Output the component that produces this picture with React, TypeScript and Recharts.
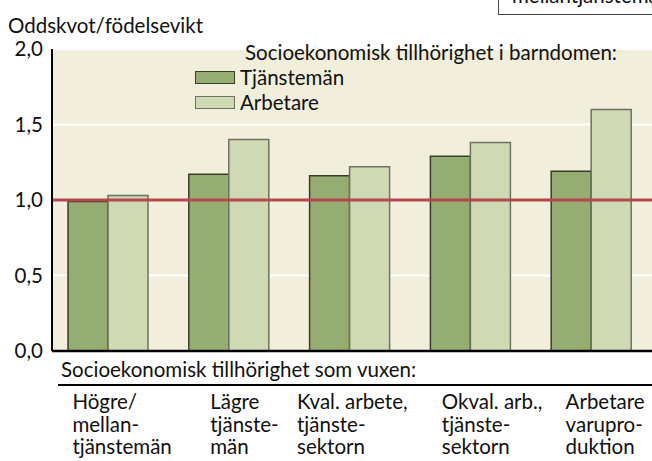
import React from 'react';
import { BarChart, Bar, XAxis, YAxis, CartesianGrid, ReferenceLine } from 'recharts';

const categoryLines: string[][] = [
  ['Högre/', 'mellan-', 'tjänstemän'],
  ['Lägre', 'tjänste-', 'män'],
  ['Kval. arbete,', 'tjänste-', 'sektorn'],
  ['Okval. arb.,', 'tjänste-', 'sektorn'],
  ['Arbetare', 'varupro-', 'duktion'],
];
const categories = categoryLines.map(l => l.join(' '));
const tjanstemanValues = [0.99, 1.17, 1.16, 1.29, 1.19];
const arbetareValues = [1.03, 1.40, 1.22, 1.38, 1.60];
const yTicks = [0, 0.5, 1, 1.5, 2];

const FONT = 'Lato, "Open Sans", sans-serif';
const FS = 20.5;
const DARK = '#95ad70';
const LIGHT = '#cfd9b4';
// left edge of each label block relative to its tick
const LABEL_SHIFT = [-36, -19, -53, -29, -26];

const data = categories.map((c, i) => ({
  category: c,
  tjansteman: tjanstemanValues[i],
  arbetare: arbetareValues[i],
}));

const CategoryTick = ({ x, y, index }: any) => {
  const lines = categoryLines[index] || [];
  return (
    <g>
      {lines.map((line, i) => (
        <text key={i} x={x + LABEL_SHIFT[index]} y={y + 50 + i * 22.5} fontSize={FS} fontFamily={FONT} fill="#111" textAnchor="start">
          {line}
        </text>
      ))}
    </g>
  );
};

const legendItems = [
  { name: 'Tjänstemän', color: DARK, border: '#3a3d2c' },
  { name: 'Arbetare', color: LIGHT, border: '#6f7163' },
];

export default function App() {
  return (
    <div style={{ position: 'absolute', left: 0, top: 0, width: 652, height: 461, background: '#fff', overflow: 'hidden', fontFamily: FONT }}>
      <div style={{ position: 'absolute', left: 498, top: -16, width: 170, height: 31, border: '1px solid #444', background: '#fff', fontSize: FS, color: '#111', paddingLeft: 13, lineHeight: '20px', boxSizing: 'border-box' }}>
        mellantjänstemän
      </div>
      <div style={{ position: 'absolute', left: 8, top: 13, fontSize: FS, color: '#111' }}>Oddskvot/födelsevikt</div>
      <BarChart
        width={652}
        height={461}
        data={data}
        margin={{ top: 49, right: 0, left: 0, bottom: 0 }}
        barCategoryGap={20}
        barGap={0}
      >
        <CartesianGrid vertical={false} fill="#f2eedc" stroke="#ffffff" strokeWidth={2} />
        <XAxis
          dataKey="category"
          height={110}
          padding={{ left: -4, right: 0 }}
          axisLine={{ stroke: '#000', strokeWidth: 2.5 }}
          tickLine={false}
          interval={0}
          tick={<CategoryTick />}
        />
        <YAxis
          width={52}
          domain={[0, 2]}
          ticks={yTicks}
          tickFormatter={(v: number) => v.toFixed(1).replace('.', ',')}
          axisLine={{ stroke: '#000', strokeWidth: 2 }}
          tickLine={false}
          tickSize={0}
          tickMargin={9}
          tick={{ fill: '#111', fontSize: FS, fontFamily: FONT }}
        />
        <Bar dataKey="tjansteman" name="Tjänstemän" fill={DARK} stroke="#3a3d2c" strokeWidth={1.5} isAnimationActive={false} />
        <Bar dataKey="arbetare" name="Arbetare" fill={LIGHT} stroke="#6f7163" strokeWidth={1.5} isAnimationActive={false} />
        <ReferenceLine y={1} stroke="#b5484c" strokeWidth={3} />
      </BarChart>
      <div style={{ position: 'absolute', left: 195, top: 40, fontSize: FS, color: '#111', lineHeight: '25px' }}>
        <div style={{ marginLeft: 50 }}>Socioekonomisk tillhörighet i barndomen:</div>
        {legendItems.map(item => (
          <div key={item.name} style={{ display: 'flex', alignItems: 'center' }}>
            <span style={{ display: 'inline-block', width: 38, height: 11, background: item.color, border: `1px solid ${item.border}`, marginRight: 5 }} />
            {item.name}
          </div>
        ))}
      </div>
      <div style={{ position: 'absolute', left: 61, top: 357, fontSize: FS, color: '#111' }}>Socioekonomisk tillhörighet som vuxen:</div>
      <div style={{ position: 'absolute', left: 58, top: 384, width: 594, height: 2, background: '#000' }} />
    </div>
  );
}
